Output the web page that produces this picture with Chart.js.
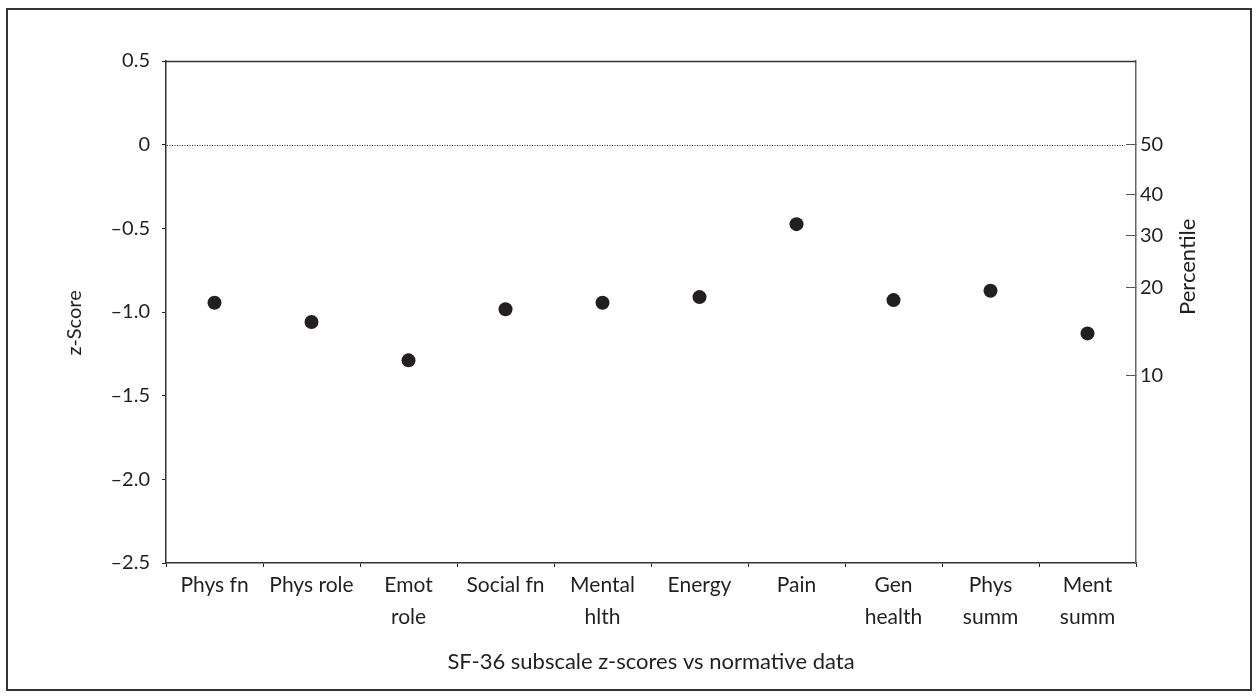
<!DOCTYPE html>
<html lang="en">
  <head>
    <meta charset="UTF-8" />
    <title>SF-36 subscale z-scores</title>
    <script src="https://cdn.jsdelivr.net/npm/chart.js"></script>
    <style>
      body {
        margin: 0;
        background: #ffffff;
        font-family: "Lato", "Open Sans", sans-serif;
      }
      .frame {
        position: absolute;
        left: 6px;
        top: 8px;
        width: 1242px;
        height: 679px;
        border: 2px solid #333333;
      }
      #zChart {
        position: absolute;
        left: 0;
        top: 0;
      }
    </style>
  </head>
  <body>
    <div class="frame"></div>
    <canvas id="zChart" width="1258" height="699"></canvas>

    <script>
      // subscales (multi-line labels as arrays)
      const subscales = [
        ["Phys fn"],
        ["Phys role"],
        ["Emot", "role"],
        ["Social fn"],
        ["Mental", "hlth"],
        ["Energy"],
        ["Pain"],
        ["Gen", "health"],
        ["Phys", "summ"],
        ["Ment", "summ"],
      ];
      const zScores = [-0.945, -1.06, -1.289, -0.984, -0.945, -0.911, -0.475, -0.929, -0.873, -1.128];

      // right-hand percentile axis: label and the z value it sits at
      const percentileLabels = ["50", "40", "30", "20", "10"];
      const percentileZ = [0, -0.296, -0.545, -0.855, -1.377];

      const ink = "#231f20";
      const fontFamily = "Lato, 'Open Sans', sans-serif";
      const tickFont = { family: fontFamily, size: 20 };

      function formatZ(v) {
        if (v === 0) return "0";
        if (v < 0) return "\u2013" + Math.abs(v).toFixed(1);
        return v.toFixed(1);
      }

      function drawRotated(ctx, text, x, y, size) {
        ctx.save();
        ctx.fillStyle = ink;
        ctx.font = size + "px " + fontFamily;
        ctx.textAlign = "center";
        ctx.textBaseline = "middle";
        ctx.translate(x, y);
        ctx.rotate(-Math.PI / 2);
        ctx.fillText(text, 0, 0);
        ctx.restore();
      }

      // top edge of the plot box, dotted zero line, rotated axis titles
      const chartDecor = {
        id: "chartDecor",
        beforeDatasetsDraw(chart) {
          const { ctx, chartArea, scales } = chart;
          const y0 = Math.round(scales.y.getPixelForValue(0)) + 0.5;
          ctx.save();
          ctx.strokeStyle = ink;
          ctx.lineWidth = 1;
          ctx.setLineDash([1, 1.5]);
          ctx.beginPath();
          ctx.moveTo(chartArea.left + 1, y0);
          ctx.lineTo(chartArea.right - 11, y0);
          ctx.stroke();
          ctx.restore();
        },
        afterDraw(chart) {
          const { ctx, chartArea, scales } = chart;
          ctx.save();
          ctx.strokeStyle = "#333333";
          ctx.lineWidth = 1.5;
          ctx.beginPath();
          ctx.moveTo(chartArea.left, chartArea.top + 0.5);
          ctx.lineTo(chartArea.right, chartArea.top + 0.5);
          ctx.stroke();
          ctx.restore();

          drawRotated(ctx, "z-Score", 75, scales.y.getPixelForValue(-1.065), 20);
          drawRotated(ctx, "Percentile", 1188, scales.y.getPixelForValue(-0.73), 22);
        },
      };

      new Chart(document.getElementById("zChart").getContext("2d"), {
        type: "line",
        data: {
          labels: subscales,
          datasets: [
            {
              label: "z-score",
              data: zScores,
              showLine: false,
              pointRadius: 7,
              pointHoverRadius: 7,
              pointBorderWidth: 0,
              pointBackgroundColor: ink,
              borderColor: ink,
            },
          ],
        },
        options: {
          responsive: false,
          animation: false,
          events: [],
          layout: { padding: { top: 61, left: 0, right: 0, bottom: 0 } },
          plugins: {
            legend: { display: false },
            tooltip: { enabled: false },
          },
          scales: {
            x: {
              offset: true,
              grid: {
                offset: true,
                drawOnChartArea: false,
                drawTicks: true,
                tickLength: 4,
                tickColor: ink,
              },
              border: { display: true, color: "#333333", width: 1.5 },
              ticks: {
                color: ink,
                font: { family: fontFamily, size: 21, lineHeight: 1.52 },
                padding: 2,
                maxRotation: 0,
                autoSkip: false,
              },
              title: {
                display: true,
                text: "SF-36 subscale z-scores vs normative data",
                color: ink,
                font: { family: fontFamily, size: 22, lineHeight: 1.2 },
                padding: { top: 0, bottom: 24 },
              },
              afterFit(scale) {
                scale.height = 136;
              },
            },
            y: {
              position: "left",
              min: -2.5,
              max: 0.5,
              ticks: {
                stepSize: 0.5,
                color: ink,
                font: tickFont,
                padding: 12,
                callback: (v) => formatZ(v),
              },
              grid: {
                drawOnChartArea: false,
                drawTicks: true,
                tickLength: 4,
                tickColor: ink,
              },
              border: { display: true, color: "#333333", width: 1.5 },
              afterFit(scale) {
                scale.width = 166;
              },
            },
            y2: {
              position: "right",
              min: -2.5,
              max: 0.5,
              afterBuildTicks(scale) {
                scale.ticks = percentileZ.map((v) => ({ value: v }));
              },
              ticks: {
                color: ink,
                font: tickFont,
                padding: 14,
                callback: (v, i) => percentileLabels[i],
              },
              grid: {
                drawOnChartArea: false,
                drawTicks: true,
                tickLength: -10,
                tickColor: "#555555",
              },
              border: { display: true, color: "#666666", width: 1.5 },
              afterFit(scale) {
                scale.width = 1258 - 1136;
              },
            },
          },
        },
        plugins: [chartDecor],
      });
    </script>
  </body>
</html>
